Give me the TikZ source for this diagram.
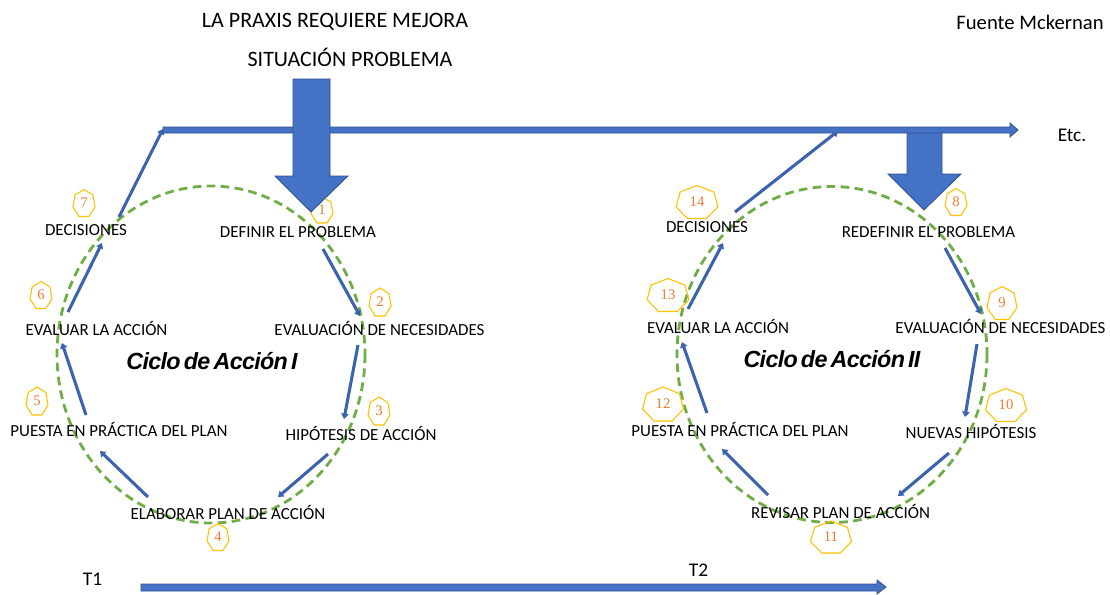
\documentclass[tikz,border=0pt]{standalone}
\usepackage{fontspec}
\setmainfont{Carlito}
\newfontfamily\ciclofont[LetterSpace=-3,WordSpace=0.55]{Liberation Sans}
\newfontfamily\numfont{Liberation Serif}
\usetikzlibrary{arrows.meta}
\definecolor{bblue}{HTML}{4472C4}
\definecolor{bedge}{HTML}{2F528F}
\definecolor{lblue}{HTML}{3B64AD}
\definecolor{dgreen}{HTML}{70AD47}
\definecolor{hgold}{HTML}{FFC000}
\definecolor{horange}{HTML}{ED7D31}
\tikzset{
 lbl/.style={anchor=base, font=\fontsize{12.7}{15}\selectfont, inner sep=0pt},
 ttl/.style={anchor=base, font=\fontsize{16.5}{19}\selectfont, inner sep=0pt},
 ciclo/.style={anchor=base, font=\ciclofont\bfseries\itshape\fontsize{17.5}{20}\selectfont, inner sep=0pt},
 cycleline/.style={draw=dgreen, line width=2.1pt, dash pattern=on 6.5pt off 4pt},
 flow/.style={draw=lblue, line width=2.3pt, -{Triangle[length=4pt,width=5.5pt]}},
 bigarrow/.style={fill=bblue, draw=bedge, line width=0.6pt},
 num/.style={font=\numfont\fontsize{11}{13}\selectfont, text=horange, inner sep=0pt},
 heptline/.style={draw=hgold, line width=0.8pt},
}
\newcommand\heptnum[6]{%
 \draw[heptline] plot[samples at={90,141.4286,192.8571,244.2857,295.7143,347.1429,398.5714}] ({#2+#4/2*cos(\x)/0.975},{#3-#5/1.901*(sin(\x)-0.0495)}) -- cycle;
 \node[num] (#1) at (#2,#3) {#6};
}
\begin{document}
\begin{tikzpicture}[x=0.75pt,y=-0.75pt]
\useasboundingbox (0,0) rectangle (1110,594);
\fill[white] (0,0) rectangle (1110,594);

% dashed cycles
\draw[cycleline] (211,354.5) ellipse [x radius=154, y radius=168.5];
\draw[cycleline] (832,354.5) ellipse [x radius=155, y radius=168];

% titles
\node[ttl] (t1) at (335,27) {LA PRAXIS REQUIERE MEJORA};
\node[ttl] (t2) at (350,66) {SITUACIÓN PROBLEMA};
\node[anchor=base, font=\fontsize{15.5}{18}\selectfont, inner sep=0pt] (src) at (1030,29.5) {Fuente Mckernan};
\node[anchor=base, font=\fontsize{14.5}{17}\selectfont, inner sep=0pt] (etc) at (1072,141) {Etc.};
\node[anchor=base, font=\fontsize{14.5}{17}\selectfont, inner sep=0pt] (T1) at (92.5,585) {T1};
\node[anchor=base, font=\fontsize{14.5}{17}\selectfont, inner sep=0pt] (T2) at (698.5,576) {T2};

% cycle I labels
\node[lbl] (dec1) at (86,235.5) {DECISIONES};
\node[lbl] (def1) at (298,237.5) {DEFINIR EL PROBLEMA};
\node[lbl] (eva1) at (96.5,335.5) {EVALUAR LA ACCIÓN};
\node[lbl] (nec1) at (379.5,335) {EVALUACIÓN DE NECESIDADES};
\node[lbl] (pue1) at (119,436.5) {PUESTA EN PRÁCTICA DEL PLAN};
\node[lbl] (hip1) at (361,440.5) {HIPÓTESIS DE ACCIÓN};
\node[lbl] (ela1) at (228,519.5) {ELABORAR PLAN DE ACCIÓN};
\node[ciclo] (c1) at (212,369) {Ciclo de Acción I};

% cycle II labels
\node[lbl] (dec2) at (707,232.5) {DECISIONES};
\node[lbl] (def2) at (928.5,237) {REDEFINIR EL PROBLEMA};
\node[lbl] (eva2) at (718,333) {EVALUAR LA ACCIÓN};
\node[lbl] (nec2) at (1000.5,333) {EVALUACIÓN DE NECESIDADES};
\node[lbl] (pue2) at (740,436) {PUESTA EN PRÁCTICA DEL PLAN};
\node[lbl] (hip2) at (971,438) {NUEVAS HIPÓTESIS};
\node[lbl] (rev2) at (840.5,518) {REVISAR PLAN DE ACCIÓN};
\node[ciclo] (c2) at (832,367) {Ciclo de Acción II};

% flow coordinates
\coordinate (f1s) at (323,249); \coordinate (f1e) at (360,316);
\coordinate (f2s) at (358,345); \coordinate (f2e) at (344,419);
\coordinate (f3s) at (328,454); \coordinate (f3e) at (278,497);
\coordinate (f4s) at (148,497); \coordinate (f4e) at (100,451);
\coordinate (f5s) at (86,415);  \coordinate (f5e) at (62,343);
\coordinate (f6s) at (68,312);  \coordinate (f6e) at (102,243);
\coordinate (f7s) at (119,217); \coordinate (f7e) at (163,129);
\coordinate (g1s) at (945,248); \coordinate (g1e) at (981,314);
\coordinate (g2s) at (977,344); \coordinate (g2e) at (965,417);
\coordinate (g3s) at (949,453); \coordinate (g3e) at (898,496);
\coordinate (g4s) at (768,495); \coordinate (g4e) at (722,449);
\coordinate (g5s) at (707,413); \coordinate (g5e) at (682,342);
\coordinate (g6s) at (688,309); \coordinate (g6e) at (723,243);
\coordinate (g7s) at (735,212); \coordinate (g7e) at (838,131);

\foreach \a in {f1,f2,f3,f4,f5,f6,f7,g1,g2,g3,g4,g5,g6,g7}
  \draw[flow] (\a s) -- (\a e);

% heptagon badges
\heptnum{h1}{322}{210}{22}{26}{1}
\heptnum{h2}{380}{302}{22}{28}{2}
\heptnum{h3}{379}{411}{22}{28}{3}
\heptnum{h4}{218}{537}{22}{27}{4}
\heptnum{h5}{37}{401}{22}{28}{5}
\heptnum{h6}{41}{295}{22}{27}{6}
\heptnum{h7}{84}{203}{22}{27}{7}
\heptnum{h8}{956}{202}{22}{27}{8}
\heptnum{h9}{1002}{303}{30}{33}{9}
\heptnum{h10}{1006}{405}{41}{33}{10}
\heptnum{h11}{831}{537}{41}{32}{11}
\heptnum{h12}{663}{404}{41}{34}{12}
\heptnum{h13}{668}{295}{42}{33}{13}
\heptnum{h14}{697}{202}{42}{33}{14}

% big down arrow II (under the long arrow)
\draw[bigarrow] (907,131) -- (942,131) -- (942,174) -- (961,174) -- (924,210) -- (888,174) -- (907,174) -- cycle;
% long horizontal arrow
\draw[bigarrow] (163,127) -- (1010,127) -- (1010,123) -- (1018,130) -- (1010,137) -- (1010,133) -- (163,133) -- cycle;
% big down arrow I
\draw[bigarrow] (293,79) -- (330,79) -- (330,176) -- (348,176) -- (311,212) -- (275,176) -- (293,176) -- cycle;
% time arrow
\draw[bigarrow] (141,584) -- (877,584) -- (877,580) -- (886,587) -- (877,594) -- (877,591) -- (141,591) -- cycle;
\end{tikzpicture}
\end{document}
